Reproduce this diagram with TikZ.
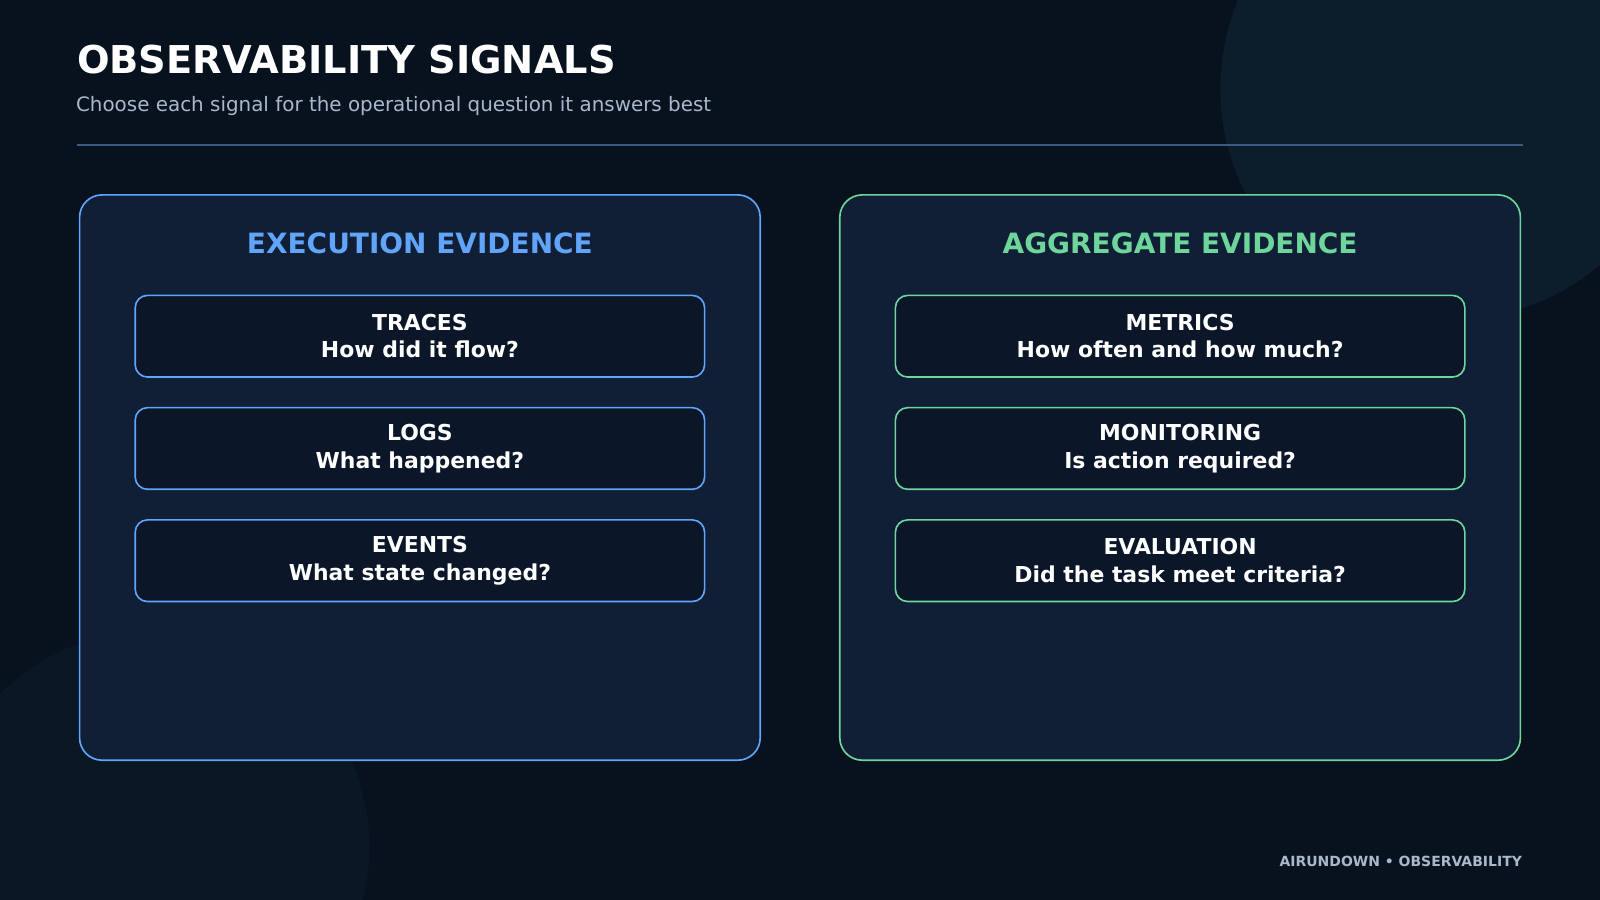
\documentclass[tikz,border=0pt]{standalone}
\usepackage{fontspec}
\setmainfont{DejaVu Sans}
\begin{document}
\begin{tikzpicture}[x=1pt,y=-1pt,
  panel/.style={draw=#1,line width=1.6pt,rounded corners=22pt,fill=panelbg},
  item/.style={draw=#1,line width=1.6pt,rounded corners=12pt,fill=itembg,minimum width=558pt,minimum height=80pt,align=center,text=white,font=\fontsize{21.5}{27}\selectfont\bfseries},
  head/.style={font=\fontsize{27.4}{32}\selectfont\bfseries,text=#1}]
\definecolor{bg}{HTML}{08121F}
\definecolor{panelbg}{HTML}{101E36}
\definecolor{itembg}{HTML}{0B1629}
\definecolor{blu}{HTML}{60A5FA}
\definecolor{grn}{HTML}{6ED69A}
\definecolor{sub}{HTML}{A9B8CC}
\definecolor{circ}{HTML}{0C1D2B}
\definecolor{divc}{HTML}{3B5A80}
\useasboundingbox (0,0) rectangle (1568,882);
\fill[bg] (0,0) rectangle (1568,882);
\begin{scope}
\clip (0,0) rectangle (1568,882);
\fill[circ] (1422,87) circle (226);
\fill[circ!55!bg] (150,830) circle (212);
\end{scope}
\node[anchor=west,text=white,font=\fontsize{37.6}{44}\selectfont\bfseries] (title) at (72,58) {OBSERVABILITY SIGNALS};
\node[anchor=west,text=sub,font=\fontsize{19.5}{23}\selectfont] (subtitle) at (71,104) {Choose each signal for the operational question it answers best};
\draw[divc,line width=1.2pt] (75,142) coordinate (d1) -- (1493,142) coordinate (d2);
\draw[panel=blu] (78,191) rectangle (745,745);
\draw[panel=grn] (823,191) rectangle (1490,745);
\node[head=blu] (h1) at (411.5,238) {EXECUTION EVIDENCE};
\node[head=grn] (h2) at (1156.5,238) {AGGREGATE EVIDENCE};
\node[item=blu] (t) at (411.5,329.5) {TRACES\\How did it flow?};
\node[item=blu] (l) at (411.5,439.5) {LOGS\\What happened?};
\node[item=blu] (e) at (411.5,549.5) {EVENTS\\What state changed?};
\node[item=grn] (m) at (1156.5,329.5) {METRICS\\How often and how much?};
\node[item=grn] (mo) at (1156.5,439.5) {MONITORING\\Is action required?};
\node[item=grn] (ev) at (1156.5,549.5) {EVALUATION\\Did the task meet criteria?};
\node[anchor=east,text=sub,font=\fontsize{13.7}{16}\selectfont\bfseries] (foot) at (1495,844) {AIRUNDOWN • OBSERVABILITY};
\end{tikzpicture}
\end{document}
